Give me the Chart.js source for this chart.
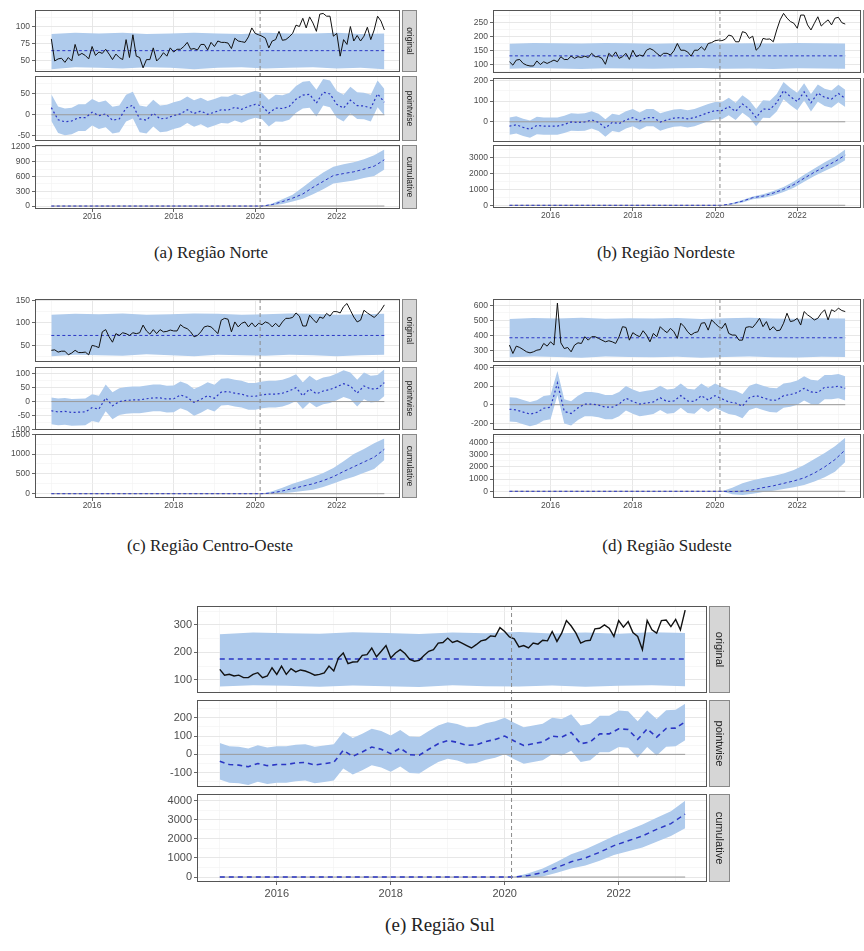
<!DOCTYPE html>
<html>
<head>
<meta charset="utf-8">
<script src="https://cdn.jsdelivr.net/npm/chart.js@4.4.0/dist/chart.umd.min.js"></script>
<style>
html, body { margin: 0; padding: 0; background: #fff; width: 864px; height: 951px; overflow: hidden; }
body { position: relative; }
.sub { position: absolute; }
.cap { position: absolute; font-family: "Liberation Serif", "DejaVu Serif", serif; color: #222; white-space: nowrap; transform: translateX(-50%); line-height: 20px; }
</style>
</head>
<body>
<script>
// shared time axis (monthly, Jan 2015 onwards)
const START = 2015;
const NM = 99;
const CUT = 2020.12;
const BAND_STEP = 7;
const PW_STEP = 2;
const cumMonths = [0, 62, 65, 68, 71, 74, 77, 80, 83, 86, 89, 92, 95, 98];
const xTickYears = [2016, 2018, 2020, 2022];
const stripLabels = ['original', 'pointwise', 'cumulative'];

// (a) Norte
const norteOrig = [82,50,53,54,48,55,50,74,58,61,58,53,71,58,63,61,67,60,52,60,55,52,81,55,88,57,55,40,52,52,69,50,55,62,57,69,63,67,67,71,77,67,68,66,74,74,66,77,71,79,77,77,76,68,83,79,78,77,85,98,90,88,86,83,69,79,81,93,80,81,85,90,102,100,112,98,114,105,93,118,119,115,115,86,90,57,81,74,100,79,87,79,86,99,81,95,115,108,95];
const nortePred = 65;
const norteBandHi = [89,91,90,91,89,90,91,90,89,91,90,90,91,89,90];
const norteBandLo = [38,41,40,39,41,40,38,40,41,39,40,41,39,40,38];
const nortePw = [17,-12,-17,-15,-7,-7,6,-2,2,-13,-10,16,23,-10,-13,4,-10,-8,-2,2,12,3,9,1,6,12,11,18,13,20,25,21,4,16,15,20,37,47,49,28,54,50,25,16,35,22,21,16,50,30];
const nortePwHi = [49,20,15,17,25,25,38,30,34,19,22,48,55,22,19,36,22,24,30,34,44,35,41,33,38,44,43,50,45,52,57,53,36,48,47,52,69,79,81,60,86,82,57,48,67,54,53,48,82,62];
const nortePwLo = [-15,-44,-49,-47,-39,-39,-26,-34,-30,-45,-42,-16,-9,-42,-45,-28,-42,-40,-34,-30,-20,-29,-23,-31,-26,-20,-21,-14,-19,-12,-7,-11,-28,-16,-17,-12,5,15,17,-4,22,18,-7,-16,3,-10,-11,-16,18,-2];
const norteCum = [0,0,30,90,160,245,380,500,620,660,695,750,810,940];
const norteCumHi = [0,0,50,140,230,380,540,680,800,850,890,950,1030,1150];
const norteCumLo = [0,0,10,40,90,150,240,340,460,490,520,570,610,740];

// (b) Nordeste
const nordOrig = [110,98,116,118,104,98,95,95,113,100,110,104,110,116,110,128,118,118,130,122,128,125,130,125,140,128,128,122,101,140,128,145,122,128,140,118,151,128,134,130,151,157,151,140,130,140,140,134,149,175,151,151,145,130,151,151,163,151,175,178,185,187,185,190,205,201,181,181,217,213,193,201,151,163,193,190,191,181,223,259,282,265,253,247,229,276,276,241,223,247,270,237,249,259,241,265,268,249,244];
const nordPred = 131;
const nordBandHi = [174,177,176,175,177,176,174,176,177,175,176,175,177,176,175];
const nordBandLo = [85,88,86,84,87,86,85,87,88,85,86,84,87,86,85];
const nordPw = [-21,-15,-27,-36,-18,-21,-21,-21,-13,-1,-3,-1,9,-3,-30,-3,-9,9,20,3,20,20,-1,9,18,20,14,20,32,44,54,54,74,50,86,62,20,62,60,92,151,122,98,145,92,139,118,110,137,113];
const nordPwHi = [21,27,15,6,24,21,21,21,29,41,39,41,51,39,12,39,33,51,62,45,62,62,41,51,60,62,56,62,74,86,96,96,116,92,128,104,62,104,102,134,193,164,140,187,134,181,160,152,179,155];
const nordPwLo = [-63,-57,-69,-78,-60,-63,-63,-63,-55,-43,-45,-43,-33,-45,-72,-45,-51,-33,-22,-39,-22,-22,-43,-33,-24,-22,-28,-22,-10,2,12,12,32,8,44,20,-22,20,18,50,109,80,56,103,50,97,76,68,95,71];
const nordCum = [0,0,100,260,480,580,770,1000,1300,1700,2080,2420,2750,3150];
const nordCumHi = [0,0,150,330,560,700,900,1150,1500,1920,2320,2700,3050,3500];
const nordCumLo = [0,0,50,180,380,460,620,830,1100,1480,1840,2150,2450,2830];

// (c) Centro-Oeste
const coOrig = [39,40,35,37,37,29,33,39,34,34,35,29,50,48,45,80,85,69,57,76,72,78,76,72,78,76,78,95,82,75,85,76,85,80,81,84,82,82,96,90,87,80,69,72,80,91,93,91,84,76,106,110,108,80,102,91,99,102,91,100,91,99,96,102,99,91,99,91,102,110,110,112,122,115,93,93,117,108,100,113,110,121,115,125,125,122,136,143,128,113,102,106,128,122,117,112,119,128,140];
const coPred = 72;
const coBandHi = [118,120,119,121,118,119,121,120,118,119,121,120,118,119,120];
const coBandLo = [26,29,28,27,30,28,26,29,28,27,29,28,26,28,29];
const coPw = [-33,-37,-35,-39,-38,-37,-22,-27,13,-15,0,4,6,6,10,13,13,9,10,24,15,-3,8,21,12,34,36,30,27,19,19,24,27,27,30,38,50,21,45,28,38,43,53,64,56,30,56,45,47,68];
const coPwHi = [15,11,13,9,10,11,26,21,61,33,48,52,54,54,58,61,61,57,58,72,63,45,56,69,60,82,84,78,75,67,67,72,75,75,78,86,98,69,93,76,86,91,101,112,104,78,104,93,95,116];
const coPwLo = [-81,-85,-83,-87,-86,-85,-70,-75,-35,-63,-48,-44,-42,-42,-38,-35,-35,-39,-38,-24,-33,-51,-40,-27,-36,-14,-12,-18,-21,-29,-29,-24,-21,-21,-18,-10,2,-27,-3,-20,-10,-5,5,16,8,-18,8,-3,-1,20];
const coCum = [0,0,20,70,130,190,250,330,430,560,680,800,920,1120];
const coCumHi = [0,0,60,150,250,330,420,520,650,820,1000,1130,1270,1390];
const coCumLo = [0,0,0,10,40,70,100,170,260,350,430,530,620,850];

// (d) Sudeste
const seOrig = [334,278,327,318,304,289,282,289,300,304,345,327,356,334,615,349,311,318,289,334,349,345,390,367,390,390,379,367,356,363,356,345,390,457,452,367,417,401,390,430,401,356,412,390,457,434,417,446,423,379,480,457,423,401,417,423,480,484,434,502,480,457,446,480,412,401,401,367,367,452,457,452,480,513,457,491,434,457,430,434,480,547,491,497,513,468,558,536,520,502,513,547,570,502,570,558,581,565,558];
const sePred = 383;
const seBandHi = [508,515,512,516,510,514,511,515,509,513,516,512,510,514,512];
const seBandLo = [252,258,255,250,257,254,252,256,250,255,258,253,251,256,254];
const sePw = [-49,-56,-79,-101,-83,-38,-27,232,-72,-94,-34,7,7,-4,-27,-27,7,69,34,7,18,29,74,34,40,97,40,34,97,51,97,63,29,18,-16,74,97,74,51,47,97,108,130,175,137,130,187,187,198,175];
const sePwHi = [81,74,51,29,47,92,103,362,58,36,96,137,137,126,103,103,137,199,164,137,148,159,204,164,170,227,170,164,227,181,227,193,159,148,114,204,227,204,181,177,227,238,260,305,267,260,317,317,328,305];
const sePwLo = [-179,-186,-209,-231,-213,-168,-157,102,-202,-224,-164,-123,-123,-134,-157,-157,-123,-61,-96,-123,-112,-101,-56,-96,-90,-33,-90,-96,-33,-79,-33,-67,-101,-112,-146,-56,-33,-56,-79,-83,-33,-22,0,45,7,0,57,57,68,45];
const seCum = [0,0,-20,10,120,300,450,650,850,1100,1500,2000,2600,3400];
const seCumHi = [0,0,300,650,900,1100,1250,1450,1750,2150,2650,3150,3700,4400];
const seCumLo = [0,0,-250,-300,-200,-60,50,180,330,520,800,1150,1600,2400];

// (e) Sul
const sulOrig = [138,117,120,114,117,108,108,120,126,108,114,144,120,150,120,141,129,136,132,125,117,120,125,150,132,180,198,159,165,166,189,192,216,184,204,225,180,198,210,196,174,168,171,189,204,210,234,236,252,236,242,234,225,216,228,242,246,260,258,290,276,256,249,220,225,216,234,230,244,242,276,240,270,316,296,270,234,242,244,286,288,300,288,258,316,292,312,272,258,210,316,282,270,316,318,294,320,282,354];
const sulPred = 176;
const sulBandHi = [266,272,270,268,273,271,267,272,270,274,269,272,268,273,271];
const sulBandLo = [76,80,78,75,79,77,74,80,77,76,79,75,78,80,77];
const sulPw = [-38,-56,-59,-68,-50,-62,-56,-56,-47,-44,-59,-51,-44,22,-11,13,40,28,4,34,-2,-5,28,58,76,66,49,52,70,82,100,73,49,58,68,100,94,120,58,68,112,112,140,136,82,140,94,142,144,178];
const sulPwHi = [62,44,41,32,50,38,44,44,53,56,41,49,56,122,89,113,140,128,104,134,98,95,128,158,176,166,149,152,170,182,200,173,149,158,168,200,194,220,158,168,212,212,240,236,182,240,194,242,244,278];
const sulPwLo = [-138,-156,-159,-168,-150,-162,-156,-156,-147,-144,-159,-151,-144,-78,-111,-87,-60,-72,-96,-66,-102,-105,-72,-42,-24,-34,-51,-48,-30,-18,0,-27,-51,-42,-32,0,-6,20,-42,-32,12,12,40,36,-18,40,-6,42,44,78];
const sulCum = [0,0,80,230,500,800,1000,1300,1650,1900,2150,2500,2800,3300];
const sulCumHi = [0,0,200,450,800,1200,1450,1800,2150,2450,2750,3100,3450,4000];
const sulCumLo = [0,0,-50,30,220,450,600,850,1150,1350,1550,1850,2150,2550];

const regions = [
  { caption: '(a) Região Norte', orig: norteOrig, pred: nortePred, bandHi: norteBandHi, bandLo: norteBandLo, pw: nortePw, pwHi: nortePwHi, pwLo: nortePwLo, cum: norteCum, cumHi: norteCumHi, cumLo: norteCumLo },
  { caption: '(b) Região Nordeste', orig: nordOrig, pred: nordPred, bandHi: nordBandHi, bandLo: nordBandLo, pw: nordPw, pwHi: nordPwHi, pwLo: nordPwLo, cum: nordCum, cumHi: nordCumHi, cumLo: nordCumLo },
  { caption: '(c) Região Centro-Oeste', orig: coOrig, pred: coPred, bandHi: coBandHi, bandLo: coBandLo, pw: coPw, pwHi: coPwHi, pwLo: coPwLo, cum: coCum, cumHi: coCumHi, cumLo: coCumLo },
  { caption: '(d) Região Sudeste', orig: seOrig, pred: sePred, bandHi: seBandHi, bandLo: seBandLo, pw: sePw, pwHi: sePwHi, pwLo: sePwLo, cum: seCum, cumHi: seCumHi, cumLo: seCumLo },
  { caption: '(e) Região Sul', orig: sulOrig, pred: sulPred, bandHi: sulBandHi, bandLo: sulBandLo, pw: sulPw, pwHi: sulPwHi, pwLo: sulPwLo, cum: sulCum, cumHi: sulCumHi, cumLo: sulCumLo }
];

// layout of each small-multiple block (pixels) and its axis ranges
const small = { yw: 35, xh: 13, font: 8.5, strip: 15, lw: 1, dash: [3, 2.5], pwDash: [2, 2.5], capSize: 17 };
const layouts = [
  Object.assign({}, small, { left: 35, right: 400, rows: [[10, 72], [76, 141], [145, 209]], cap: [211, 253],
    y: [{ min: 34, max: 124, major: 25, minor: 12.5 }, { min: -63, max: 93, major: 50, minor: 25 }, { min: -60, max: 1240, major: 300, minor: 150 }] }),
  Object.assign({}, small, { left: 493, right: 861, yw: 40, rows: [[10, 73], [78, 142], [145, 208]], cap: [666, 253],
    y: [{ min: 70, max: 294, major: 50, minor: 25 }, { min: -98, max: 212, major: 100, minor: 50 }, { min: -170, max: 3790, major: 1000, minor: 500 }] }),
  Object.assign({}, small, { left: 35, right: 400, rows: [[299, 362], [367, 430], [434, 498]], cap: [210, 546],
    y: [{ min: 13, max: 153, major: 50, minor: 25 }, { min: -102, max: 124, major: 50, minor: 25 }, { min: -108, max: 1505, major: 500, minor: 250 }] }),
  Object.assign({}, small, { left: 493, right: 861, yw: 40, rows: [[299, 362], [365, 430], [434, 498]], cap: [667, 546],
    y: [{ min: 221, max: 642, major: 100, minor: 50 }, { min: -271, max: 425, major: 200, minor: 100 }, { min: -550, max: 4700, major: 1000, minor: 500 }] }),
  { left: 197, right: 707, yw: 45, xh: 17, font: 11, strip: 21, lw: 1.4, dash: [5, 4], pwDash: [5, 4], capSize: 19,
    rows: [[606, 693], [700, 787], [794, 882]], cap: [440, 925],
    y: [{ min: 52, max: 369, major: 100, minor: 50 }, { min: -179, max: 298, major: 100, minor: 50 }, { min: -260, max: 4350, major: 1000, minor: 500 }] }
];

const BAND = '#afcbec';
const BLUE = '#2b36c4';
const XMIN = 2014.6, XMAX = 2023.55;
const PADT = 7, PADB = 7;

Chart.defaults.font.family = "'Liberation Sans', Arial, sans-serif";
Chart.defaults.animation = false;

const mx = i => START + i / 12;
const monthly = arr => arr.map((v, i) => ({ x: mx(i), y: v }));
const stepped = (arr, step) => arr.map((v, k) => ({ x: mx(Math.min(k * step, NM - 1)), y: v }));
const atMonths = (arr, months) => arr.map((v, k) => ({ x: mx(months[k]), y: v }));
const flat = v => [{ x: mx(0), y: v }, { x: mx(NM - 1), y: v }];
const isMajor = (v, step) => Math.abs(v / step - Math.round(v / step)) < 1e-6;

// every minor grid position between min and max
function gridTicks(min, max, step) {
  const out = [];
  for (let v = Math.ceil(min / step - 1e-9) * step; v <= max + 1e-9; v += step) {
    out.push({ value: Math.round(v * 1000) / 1000 });
  }
  return out;
}

function bandSets(lo, hi) {
  return [
    { data: lo, borderWidth: 0, borderColor: 'rgba(0,0,0,0)', fill: false, order: 5 },
    { data: hi, borderWidth: 0, borderColor: 'rgba(0,0,0,0)', backgroundColor: BAND, fill: '-1', order: 5 }
  ];
}

const decor = {
  id: 'decor',
  afterDraw(chart, args, o) {
    const a = chart.chartArea, c = chart.ctx;
    const px = chart.scales.x.getPixelForValue(CUT);
    c.save();
    c.strokeStyle = '#8a8a8a';
    c.lineWidth = 1;
    c.setLineDash([4, 3]);
    c.beginPath();
    c.moveTo(px, a.top - o.extTop);
    c.lineTo(px, a.bottom + o.extBot);
    c.stroke();
    c.setLineDash([]);
    c.strokeStyle = '#555';
    c.strokeRect(a.left + 0.5, a.top + 0.5, a.width - 1, a.height - 1);
    const sx = a.right + 2;
    c.fillStyle = '#d6d6d6';
    c.fillRect(sx, a.top, o.stripW, a.height);
    c.strokeStyle = '#888';
    c.strokeRect(sx + 0.5, a.top + 0.5, o.stripW - 1, a.height - 1);
    c.translate(sx + o.stripW / 2, a.top + a.height / 2);
    c.rotate(Math.PI / 2);
    c.fillStyle = '#222';
    c.font = o.font;
    c.textAlign = 'center';
    c.textBaseline = 'middle';
    c.fillText(o.label, 0, 0);
    c.restore();
  }
};

function makeSub(lay, row, datasets) {
  const bottom = row === 2;
  const [t, b] = lay.rows[row];
  const padR = lay.strip + 4;
  const w = lay.yw + (lay.right - lay.left) + padR;
  const h = PADT + (b - t) + (bottom ? lay.xh : PADB);
  const div = document.createElement('div');
  div.className = 'sub';
  div.style.left = (lay.left - lay.yw) + 'px';
  div.style.top = (t - PADT) + 'px';
  div.style.width = w + 'px';
  div.style.height = h + 'px';
  const cv = document.createElement('canvas');
  div.appendChild(cv);
  document.body.appendChild(div);
  const yr = lay.y[row];
  const tickFont = { size: lay.font };
  new Chart(cv, {
    type: 'line',
    data: { datasets },
    options: {
      responsive: true,
      maintainAspectRatio: false,
      events: [],
      layout: { padding: { top: PADT, right: padR, bottom: bottom ? 0 : PADB, left: 0 } },
      elements: { point: { radius: 0 }, line: { tension: 0 } },
      plugins: {
        legend: { display: false },
        tooltip: { enabled: false },
        decor: { label: stripLabels[row], stripW: lay.strip, font: lay.font + 'px "Liberation Sans", Arial, sans-serif',
          extTop: row === 0 ? 0 : 3, extBot: bottom ? 0 : 4 }
      },
      scales: {
        x: {
          type: 'linear', min: XMIN, max: XMAX,
          afterBuildTicks(s) { s.ticks = gridTicks(XMIN, XMAX, 1); },
          afterFit(s) { s.height = bottom ? lay.xh : 0; s.paddingLeft = 0; s.paddingRight = 0; },
          border: { display: false },
          grid: {
            color: c => xTickYears.includes(c.tick.value) ? '#e4e4e4' : '#f1f1f1',
            lineWidth: c => xTickYears.includes(c.tick.value) ? 0.9 : 0.6,
            drawTicks: bottom, tickLength: 3,
            tickColor: c => xTickYears.includes(c.tick.value) ? '#555' : 'rgba(0,0,0,0)'
          },
          ticks: {
            display: bottom, autoSkip: false, maxRotation: 0,
            padding: lay.font > 10 ? 2 : 0, color: '#4d4d4d', font: tickFont,
            callback: v => xTickYears.includes(v) ? String(v) : ''
          }
        },
        y: {
          type: 'linear', min: yr.min, max: yr.max,
          afterBuildTicks(s) { s.ticks = gridTicks(yr.min, yr.max, yr.minor); },
          afterFit(s) { s.width = lay.yw; s.paddingTop = 0; s.paddingBottom = 0; },
          border: { display: false },
          grid: {
            color: c => isMajor(c.tick.value, yr.major) ? '#e4e4e4' : '#f1f1f1',
            lineWidth: c => isMajor(c.tick.value, yr.major) ? 0.9 : 0.6,
            tickLength: 3,
            tickColor: c => isMajor(c.tick.value, yr.major) ? '#555' : 'rgba(0,0,0,0)'
          },
          ticks: {
            autoSkip: false, padding: 2,
            color: '#4d4d4d', font: tickFont,
            callback: v => isMajor(v, yr.major) ? String(v) : ''
          }
        }
      }
    },
    plugins: [decor]
  });
}

regions.forEach((r, i) => {
  const lay = layouts[i];
  // original
  makeSub(lay, 0, [
    ...bandSets(stepped(r.bandLo, BAND_STEP), stepped(r.bandHi, BAND_STEP)),
    { data: flat(r.pred), borderColor: BLUE, borderWidth: lay.lw, borderDash: lay.dash, order: 2 },
    { data: monthly(r.orig), borderColor: '#111', borderWidth: lay.lw, order: 1 }
  ]);
  // pointwise
  makeSub(lay, 1, [
    ...bandSets(stepped(r.pwLo, PW_STEP), stepped(r.pwHi, PW_STEP)),
    { data: flat(0), borderColor: '#9a9a9a', borderWidth: 1, order: 3 },
    { data: stepped(r.pw, PW_STEP), borderColor: BLUE, borderWidth: lay.lw + 0.2, borderDash: lay.pwDash, order: 1 }
  ]);
  // cumulative
  makeSub(lay, 2, [
    ...bandSets(atMonths(r.cumLo, cumMonths), atMonths(r.cumHi, cumMonths)),
    { data: flat(0), borderColor: '#9a9a9a', borderWidth: 1, order: 3 },
    { data: atMonths(r.cum, cumMonths), borderColor: BLUE, borderWidth: lay.lw, borderDash: lay.dash, order: 1 }
  ]);
  const cap = document.createElement('div');
  cap.className = 'cap';
  cap.textContent = r.caption;
  cap.style.left = lay.cap[0] + 'px';
  cap.style.top = (lay.cap[1] - 10) + 'px';
  cap.style.fontSize = lay.capSize + 'px';
  document.body.appendChild(cap);
});
</script>
</body>
</html>
